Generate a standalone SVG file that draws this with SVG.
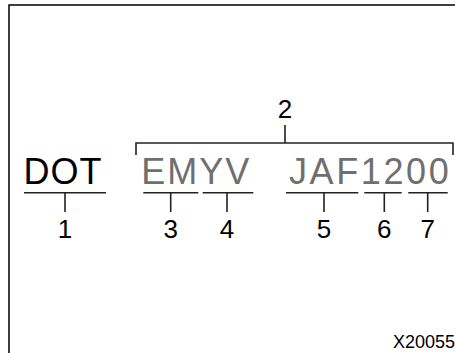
<svg xmlns="http://www.w3.org/2000/svg" width="455" height="353" viewBox="0 0 455 353">
<style>
.code{font-family:"Liberation Sans",Arial,sans-serif;font-size:36px}
.dark{fill:#000}
.grey{fill:#6f6f6f}
.lbl{font-family:"Liberation Sans",Arial,sans-serif;font-size:26px;fill:#000;text-anchor:middle}
.ln{stroke:#222;stroke-width:1.6;fill:none}
.frame{stroke:#000;stroke-width:1.5;fill:none}
.ref{font-family:"Liberation Sans",Arial,sans-serif;font-size:18px;fill:#000}
</style>
<rect width="455" height="353" fill="#fff"/>
<path class="frame" d="M455,5 H9 V353"/>
<g id="connectors">
<path class="ln" d="M24,192.7 H106 M65,192.7 V212"/>
<path class="ln" d="M136,155 V143 H453 V155 M285,143 V125"/>
<path class="ln" d="M143.3,192.7 H198.3 M170.7,192.7 V212"/>
<path class="ln" d="M202.7,192.7 H253.3 M227,192.7 V212"/>
<path class="ln" d="M286,192.7 H358.3 M324,192.7 V212"/>
<path class="ln" d="M364.3,192.7 H401.7 M384.3,192.7 V212"/>
<path class="ln" d="M408.3,192.7 H447.7 M427.7,192.7 V212"/>
</g>
<g id="dot"><text class="code dark" x="23.5" y="183.8" letter-spacing="1">DOT</text></g>
<g id="emyv"><text class="code grey" x="141.2" y="183.8" letter-spacing="2">EMYV</text></g>
<g id="jaf1200"><text class="code grey" x="289" y="183.8" letter-spacing="2.6">JAF1200</text></g>
<g id="n1"><text class="lbl" x="65" y="238.3">1</text></g>
<g id="n2"><text class="lbl" x="285" y="118.3">2</text></g>
<g id="n3"><text class="lbl" x="170.7" y="238.3">3</text></g>
<g id="n4"><text class="lbl" x="227" y="238.3">4</text></g>
<g id="n5"><text class="lbl" x="324" y="238.3">5</text></g>
<g id="n6"><text class="lbl" x="384.3" y="238.3">6</text></g>
<g id="n7"><text class="lbl" x="427.7" y="238.3">7</text></g>
<g id="ref"><text class="ref" x="393" y="348.3">X20055</text></g>
</svg>
